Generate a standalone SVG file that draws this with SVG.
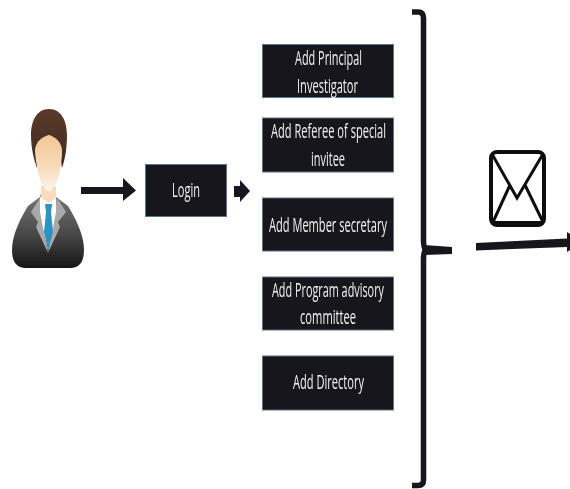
<svg xmlns="http://www.w3.org/2000/svg" width="570" height="489" viewBox="0 0 570 489">
<defs>
<style>
.box{fill:#15171a;stroke:#5d7488;stroke-width:1}
.t{font-family:"Open Sans","Liberation Sans",sans-serif;font-size:20px;fill:#f2f2f2;text-anchor:middle}
.k{fill:#16171a}
.soft{filter:url(#soft)}
</style>
<filter id="soft" x="-5%" y="-5%" width="110%" height="110%"><feGaussianBlur stdDeviation="0.35"/></filter>
<linearGradient id="face" x1="0" y1="0" x2="0" y2="1"><stop offset="0" stop-color="#f3c795"/><stop offset="0.6" stop-color="#f8dcbc"/><stop offset="1" stop-color="#fdf6ee"/></linearGradient>
<linearGradient id="suit" x1="0" y1="0" x2="0" y2="1"><stop offset="0" stop-color="#7a7a7a"/><stop offset="0.55" stop-color="#4a4a4a"/><stop offset="1" stop-color="#151515"/></linearGradient>
<linearGradient id="hair" x1="0" y1="0" x2="0" y2="1"><stop offset="0" stop-color="#5a3a2a"/><stop offset="1" stop-color="#3f2a20"/></linearGradient>
</defs>
<g id="person" class="soft">
<path d="M42 190 L53 190 L56 197 L68 206 Q84 232 84 250 Q84 268 70 268 L26 268 Q12 268 12 250 Q12 232 28 206 L40 197 Z" fill="url(#suit)"/>
<path d="M40 197 L56 197 L57 215 L48 250 L39 215 Z" fill="#fff"/>
<path d="M40 198 L31 212 L38 222 L36 227 L48 253 L60 227 L58 222 L66 212 L57 198 L56 212 L48 253 L40 212 Z" fill="#a9a9a9"/>
<path d="M41 186 L56 186 L56 198 L49 203 L41 198 Z" fill="#f8dcc0"/>
<path d="M45 204 L52 204 L51 212 L53 232 L48 250 L44 232 L46 212 Z" fill="#2f93c2"/>
<path d="M49 109 C36 109 31 122 31 135 C31 148 34 160 37 168 C40 150 42 142 49 135 C56 142 60 150 62 168 C65 160 67 148 67 135 C67 122 62 109 49 109 Z" fill="url(#hair)"/>
<path d="M49 135 C55 137 61 141 62 150 C62 170 56 190 49 191 C42 191 36 170 35 150 C36 141 42 137 49 135 Z" fill="url(#face)"/>
</g>
<g id="connectors" class="soft">
<path class="k" d="M81 187 H123 V178 L136 190.500 L123 201 V194 H81 Z"/>
<path class="k" d="M234 186 H240 V180 L250 191 L240 202 V197 H234 Z"/>
<path d="M412 12 H418 Q423.500 12 423.500 18 V239 Q423.500 250 426 250 Q423.500 250 423.500 260 V480 Q423.500 485.500 418 485.500 H412" fill="none" stroke="#16171a" stroke-width="5.500"/>
<path class="k" d="M424 245 L452 247 V254 L424 255 Z"/>
<path class="k" d="M476 243 L567 238.500 V232 L570 234 V250 L567 252 V247 L476 250.500 Z"/>
</g>
<g id="envelope" class="soft">
<rect x="491" y="152" width="53" height="73" rx="6" fill="#fff" stroke="#111" stroke-width="4"/>
<path d="M491 222.500 H544" stroke="#111" stroke-width="3" fill="none"/>
<path d="M492 154 L517 198 L543 154 M510 185 L493 222 M525 185 L543 222" fill="none" stroke="#111" stroke-width="3"/>
</g>
<g id="login" class="soft">
<rect class="box" x="145.500" y="164.500" width="81" height="52"/>
<text class="t" x="186" y="197" textLength="28" lengthAdjust="spacingAndGlyphs">Login</text>
</g>
<g id="principal" class="soft">
<rect class="box" x="262.500" y="44.500" width="131" height="53"/>
<text class="t" x="328.500" y="65" textLength="67" lengthAdjust="spacingAndGlyphs">Add Principal</text>
<text class="t" x="327.500" y="93" textLength="61" lengthAdjust="spacingAndGlyphs">Investigator</text>
</g>
<g id="referee" class="soft">
<rect class="box" x="262.500" y="118" width="131" height="54"/>
<text class="t" x="328.500" y="138" textLength="115" lengthAdjust="spacingAndGlyphs">Add Referee of special</text>
<text class="t" x="328" y="165.500" textLength="34" lengthAdjust="spacingAndGlyphs">invitee</text>
</g>
<g id="secretary" class="soft">
<rect class="box" x="262.500" y="198" width="131" height="53"/>
<text class="t" x="328" y="232" textLength="118" lengthAdjust="spacingAndGlyphs">Add Member secretary</text>
</g>
<g id="advisory" class="soft">
<rect class="box" x="262.500" y="277" width="131" height="53"/>
<text class="t" x="328" y="297" textLength="112" lengthAdjust="spacingAndGlyphs">Add Program advisory</text>
<text class="t" x="328" y="324" textLength="56" lengthAdjust="spacingAndGlyphs">committee</text>
</g>
<g id="directory" class="soft">
<rect class="box" x="262.500" y="356" width="131" height="54"/>
<text class="t" x="328.500" y="389" textLength="71" lengthAdjust="spacingAndGlyphs">Add Directory</text>
</g>
</svg>
